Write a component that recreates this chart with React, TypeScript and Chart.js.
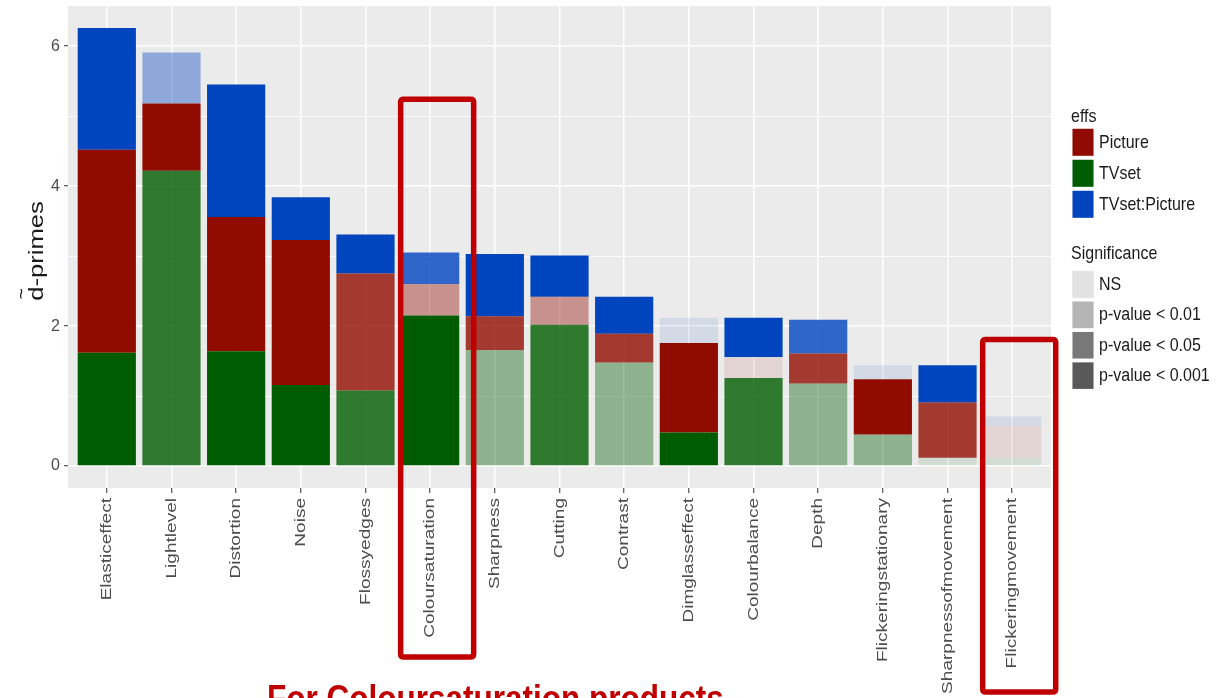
import React, { useEffect, useRef } from 'react';
import { Chart, registerables } from 'chart.js';

Chart.register(...registerables);

// ---- data -------------------------------------------------------------
const CATEGORIES = [
  'Elasticeffect', 'Lightlevel', 'Distortion', 'Noise', 'Flossyedges',
  'Coloursaturation', 'Sharpness', 'Cutting', 'Contrast', 'Dimglasseffect',
  'Colourbalance', 'Depth', 'Flickeringstationary', 'Sharpnessofmovement',
  'Flickeringmovement',
];

// d-prime contribution of each effect (stacked bottom to top: TVset, Picture, TVset:Picture)
const TVSET = [1.62, 4.22, 1.64, 1.16, 1.08, 2.15, 1.66, 2.02, 1.48, 0.48, 1.26, 1.18, 0.45, 0.12, 0.12];
const PICTURE = [2.90, 0.96, 1.92, 2.07, 1.67, 0.45, 0.48, 0.40, 0.41, 1.28, 0.30, 0.43, 0.79, 0.79, 0.45];
const TVSET_PICTURE = [1.74, 0.73, 1.89, 0.61, 0.56, 0.45, 0.89, 0.59, 0.53, 0.36, 0.56, 0.48, 0.20, 0.53, 0.14];

// significance level index per bar segment (index into SIG_LABELS)
const TVSET_SIG = [3, 2, 3, 3, 2, 3, 1, 2, 1, 3, 2, 1, 1, 0, 0];
const PICTURE_SIG = [3, 3, 3, 3, 2, 1, 2, 1, 2, 3, 0, 2, 3, 2, 0];
const TVSET_PICTURE_SIG = [3, 1, 3, 3, 3, 2, 3, 3, 3, 0, 3, 2, 0, 3, 0];

const SIG_LABELS = ['NS', 'p-value < 0.01', 'p-value < 0.05', 'p-value < 0.001'];
const SIG_ALPHA = [0.1, 0.4, 0.8, 1];

const EFFECT_LABELS = ['Picture', 'TVset', 'TVset:Picture'];
const Y_MAJOR_TICKS = [0, 2, 4, 6];

const Y_TITLE_BASE = 'd-primes';
const Y_TITLE_ACCENT = '~';
const NOTE_TEXT = 'For Coloursaturation products';
const HIGHLIGHTS = [
  { category: 'Coloursaturation', top: 5.24 },
  { category: 'Flickeringmovement', top: 1.81 },
];

// ---- styling ------------------------------------------------------------
const W = 1221;
const H = 698;
const FONT = '"Liberation Sans", Arial, sans-serif';
const EFFECT_COLORS: Record<string, number[]> = {
  Picture: [145, 12, 0],
  TVset: [0, 92, 0],
  'TVset:Picture': [0, 68, 190],
};
const SIG_BASE = [89, 89, 89];
const HIGHLIGHT_RED = '#C00000';

const rgba = (c: number[], a: number) => `rgba(${c[0]},${c[1]},${c[2]},${a})`;

function stretchedText(
  ctx: CanvasRenderingContext2D,
  text: string,
  x: number,
  y: number,
  o: { rotate?: boolean; sx?: number; sy?: number; align: CanvasTextAlign; baseline: CanvasTextBaseline; font: string; color: string },
) {
  ctx.save();
  ctx.translate(x, y);
  if (o.rotate) ctx.rotate(-Math.PI / 2);
  ctx.scale(o.sx ?? 1, o.sy ?? 1);
  ctx.font = o.font;
  ctx.textAlign = o.align;
  ctx.textBaseline = o.baseline;
  ctx.fillStyle = o.color;
  ctx.fillText(text, 0, 0);
  ctx.restore();
}

function roundRectPath(ctx: CanvasRenderingContext2D, x0: number, y0: number, x1: number, y1: number, r: number) {
  ctx.beginPath();
  ctx.moveTo(x0 + r, y0);
  ctx.lineTo(x1 - r, y0);
  ctx.quadraticCurveTo(x1, y0, x1, y0 + r);
  ctx.lineTo(x1, y1 - r);
  ctx.quadraticCurveTo(x1, y1, x1 - r, y1);
  ctx.lineTo(x0 + r, y1);
  ctx.quadraticCurveTo(x0, y1, x0, y1 - r);
  ctx.lineTo(x0, y0 + r);
  ctx.quadraticCurveTo(x0, y0, x0 + r, y0);
  ctx.closePath();
}

const decorPlugin = {
  id: 'decor',
  beforeDraw(chart: any) {
    const { ctx, chartArea: a } = chart;
    ctx.save();
    ctx.fillStyle = '#FFFFFF';
    ctx.fillRect(0, 0, chart.width, chart.height);
    ctx.fillStyle = '#EBEBEB';
    ctx.fillRect(a.left, a.top, a.right - a.left, a.bottom - a.top);
    ctx.restore();
  },
  afterDraw(chart: any) {
    const { ctx, chartArea: a } = chart;
    const xs = chart.scales.x;
    const ys = chart.scales.y;

    // category labels, rotated
    CATEGORIES.forEach((name, i) => {
      stretchedText(ctx, name, xs.getPixelForValue(i), a.bottom + 10, {
        rotate: true, sx: 1.27, align: 'right', baseline: 'middle',
        font: `15px ${FONT}`, color: '#4D4D4D',
      });
    });

    // y axis title, with the tilde set above the leading "d"
    const titleFont = `20px ${FONT}`;
    const titleSx = 1.28;
    const titleCy = (a.top + a.bottom) / 2 + 4;
    const titleX = 43;
    stretchedText(ctx, Y_TITLE_BASE, titleX, titleCy, {
      rotate: true, sx: titleSx, align: 'center', baseline: 'alphabetic',
      font: titleFont, color: '#1A1A1A',
    });
    ctx.save();
    ctx.font = titleFont;
    const fullW = ctx.measureText(Y_TITLE_BASE).width * titleSx;
    const dW = ctx.measureText('d').width * titleSx;
    ctx.restore();
    const dCenterY = titleCy + fullW / 2 - dW / 2;
    stretchedText(ctx, Y_TITLE_ACCENT, titleX - 21, dCenterY, {
      rotate: true, sx: 1, align: 'center', baseline: 'middle',
      font: `19px ${FONT}`, color: '#1A1A1A',
    });

    // legends
    const lx = 1071;
    const keyX = 1072;
    const keyW = 22;
    const textX = 1099;
    const legendFont = `16px ${FONT}`;
    stretchedText(ctx, 'effs', lx, 121.5, { sy: 1.18, align: 'left', baseline: 'alphabetic', font: legendFont, color: '#1A1A1A' });
    EFFECT_LABELS.forEach((lab, i) => {
      const top = 128.3 + i * 31;
      ctx.fillStyle = '#F2F2F2';
      ctx.fillRect(keyX, top, keyW, 28);
      ctx.fillStyle = rgba(EFFECT_COLORS[lab], 1);
      ctx.fillRect(keyX + 0.5, top + 0.5, keyW - 1, 27);
      stretchedText(ctx, lab, textX, top + 14.5, { sy: 1.18, align: 'left', baseline: 'middle', font: legendFont, color: '#1A1A1A' });
    });
    stretchedText(ctx, 'Significance', lx, 259, { sy: 1.18, align: 'left', baseline: 'alphabetic', font: legendFont, color: '#1A1A1A' });
    SIG_LABELS.forEach((lab, i) => {
      const top = 270.7 + i * 30.4;
      ctx.fillStyle = '#F2F2F2';
      ctx.fillRect(keyX, top, keyW, 27.5);
      ctx.fillStyle = rgba(SIG_BASE, SIG_ALPHA[i]);
      ctx.fillRect(keyX + 0.5, top + 0.5, keyW - 1, 26.5);
      stretchedText(ctx, lab, textX, top + 14, { sy: 1.18, align: 'left', baseline: 'middle', font: legendFont, color: '#1A1A1A' });
    });

    // highlight frames
    const frameDepth = [169, 204];
    HIGHLIGHTS.forEach((h, k) => {
      const cx = xs.getPixelForValue(CATEGORIES.indexOf(h.category)) + 7;
      const x0 = cx - 36.5;
      const x1 = cx + 36.5;
      const y0 = ys.getPixelForValue(h.top);
      const y1 = a.bottom + frameDepth[k];
      ctx.save();
      ctx.strokeStyle = HIGHLIGHT_RED;
      ctx.lineWidth = 5.5;
      ctx.lineJoin = 'round';
      roundRectPath(ctx, x0, y0, x1, y1, 3);
      ctx.stroke();
      ctx.restore();
    });

    // note below the axis
    stretchedText(ctx, NOTE_TEXT, 267, 711, {
      sy: 1.2, align: 'left', baseline: 'alphabetic',
      font: `bold 31.5px ${FONT}`, color: HIGHLIGHT_RED,
    });
  },
};

const totals = CATEGORIES.map((_, i) => TVSET[i] + PICTURE[i] + TVSET_PICTURE[i]);
const yTop = Math.max(...totals);
const yPad = yTop * 0.05;

function dataset(label: string, values: number[], sig: number[]) {
  const base = EFFECT_COLORS[label];
  return {
    label,
    data: values.map((v, i) => ({ x: i, y: v })),
    backgroundColor: (c: any) => rgba(base, SIG_ALPHA[sig[c.dataIndex]] ?? 1),
    borderWidth: 0,
    barPercentage: 0.9,
    categoryPercentage: 1,
  };
}

export default function App() {
  const ref = useRef<HTMLCanvasElement>(null);

  useEffect(() => {
    const canvas = ref.current;
    if (!canvas) return;

    const yTicks: number[] = [];
    Y_MAJOR_TICKS.forEach((v, i) => {
      yTicks.push(v);
      if (i < Y_MAJOR_TICKS.length - 1) yTicks.push((v + Y_MAJOR_TICKS[i + 1]) / 2);
    });
    const isMajor = (v: number) => Y_MAJOR_TICKS.includes(v);

    const chart = new Chart(canvas, {
      type: 'bar',
      data: {
        datasets: [
          dataset('TVset', TVSET, TVSET_SIG),
          dataset('Picture', PICTURE, PICTURE_SIG),
          dataset('TVset:Picture', TVSET_PICTURE, TVSET_PICTURE_SIG),
        ] as any,
      },
      options: {
        animation: false,
        responsive: false,
        events: [],
        layout: { padding: { left: 0, top: 6, right: 170, bottom: 0 } },
        plugins: { legend: { display: false }, tooltip: { enabled: false } },
        scales: {
          x: {
            type: 'linear',
            stacked: true,
            offset: false,
            min: -0.6,
            max: CATEGORIES.length - 1 + 0.6,
            afterBuildTicks: (s: any) => { s.ticks = CATEGORIES.map((_, i) => ({ value: i })); },
            ticks: { display: false },
            grid: { offset: false, color: '#FFFFFF', lineWidth: 1.5, tickLength: 5, tickColor: '#333333', tickWidth: 1 },
            border: { display: false },
            afterFit: (s: any) => {
              s.height = 210;
              s.paddingLeft = 0; s.paddingRight = 0; s.paddingTop = 0; s.paddingBottom = 0;
            },
          },
          y: {
            stacked: true,
            min: -yPad,
            max: yTop + yPad,
            afterBuildTicks: (s: any) => { s.ticks = yTicks.map((v) => ({ value: v })); },
            ticks: {
              color: '#4D4D4D',
              font: { family: FONT, size: 16 },
              padding: 4,
              callback: (v: any) => (isMajor(Number(v)) ? String(v) : ''),
            },
            grid: {
              color: '#FFFFFF',
              lineWidth: (c: any) => (isMajor(c.tick?.value) ? 1.5 : 0.8),
              tickLength: 4,
              tickWidth: 1,
              tickColor: (c: any) => (isMajor(c.tick?.value) ? '#333333' : 'rgba(0,0,0,0)'),
            },
            border: { display: false },
            afterFit: (s: any) => {
              s.width = 68;
              s.paddingLeft = 0; s.paddingRight = 0; s.paddingTop = 0; s.paddingBottom = 0;
            },
          },
        },
      } as any,
      plugins: [decorPlugin],
    });

    return () => chart.destroy();
  }, []);

  return (
    <div style={{ position: 'fixed', left: 0, top: 0, width: W, height: H, background: '#FFFFFF' }}>
      <canvas ref={ref} width={W} height={H} style={{ display: 'block', width: W, height: H }} />
    </div>
  );
}
